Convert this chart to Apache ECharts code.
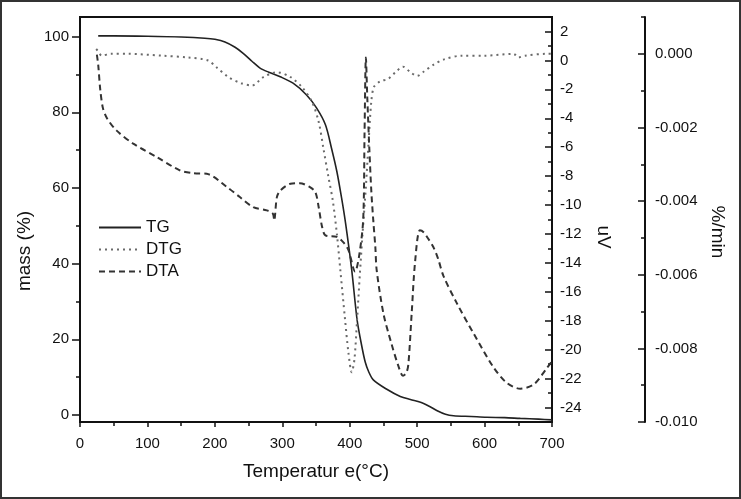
<!DOCTYPE html>
<html>
<head>
<meta charset="utf-8">
<script src="https://cdn.jsdelivr.net/npm/echarts/dist/echarts.min.js"></script>
<style>
  html, body { margin: 0; padding: 0; background: #fff; }
  #chart { width: 741px; height: 499px; }
</style>
</head>
<body>
<div id="chart"></div>
<script>
// ---- data ----
const tempTicks = [0, 100, 200, 300, 400, 500, 600, 700]
const massTicks = [0, 20, 40, 60, 80, 100]
const uvTicks = [-24, -22, -20, -18, -16, -14, -12, -10, -8, -6, -4, -2, 0, 2]
const rateTicks = [-0.010, -0.008, -0.006, -0.004, -0.002, 0.000]

// TG (mass %)
const tgTemp = [27, 50, 100, 150, 185, 200, 215, 230, 242, 255, 267, 280, 297, 316, 336, 351, 364, 373, 381, 388,
  394, 403, 411, 418, 423, 428, 435, 455, 475, 490, 505, 517, 529, 542, 554, 580, 603, 630, 653, 680, 700]
const tgMass = [100.2, 100.2, 100.1, 99.9, 99.6, 99.3, 98.6, 97.2, 95.6, 93.5, 91.7, 90.6, 89.4, 87.7, 84.6, 81.1, 76.7, 70.5, 64.3, 57.3,
  50.5, 38.3, 25.1, 18.1, 14.0, 11.5, 9.3, 6.8, 4.9, 4.1, 3.4, 2.4, 1.2, 0.2, -0.2, -0.4, -0.6, -0.7, -0.9, -1.1, -1.3]

// DTG (%/min)
const dtgTemp = [24, 28, 32, 46, 71, 121, 160, 190, 202, 220, 239, 255, 272, 292, 312, 329, 344, 354, 361, 368,
  375, 381, 386, 393, 398, 403, 407, 411, 415, 419, 424, 428, 432, 436, 445, 457, 468, 479, 490, 500,
  510, 524, 540, 566, 600, 643, 650, 660, 692, 700]
const dtgRate = [0.00013, 0.00005, -0.00005, 0, 0, -0.00005, -0.0001, -0.00018, -0.00036, -0.00063, -0.0008, -0.00086, -0.00063, -0.0005, -0.00063, -0.0009, -0.0013, -0.00185, -0.00257, -0.0033,
  -0.004, -0.0049, -0.00586, -0.0072, -0.0081, -0.00865, -0.0083, -0.0072, -0.006, -0.0049, -0.0036, -0.0024, -0.0013, -0.0009, -0.00075, -0.00068, -0.0005, -0.00035, -0.0005, -0.0006,
  -0.00048, -0.0003, -0.00015, -0.00005, -0.00005, 0, -0.0001, -0.00005, 0, 0]

// DTA (uV)
const dtaTemp = [25, 27, 30, 34, 40, 54, 79, 114, 148, 168, 188, 218, 237, 257, 277, 286, 288, 292, 297, 312,
  326, 341, 349, 354, 359, 364, 381, 391, 398, 408, 414, 420, 422, 424, 426, 429, 432, 435, 438, 440,
  450, 462, 472, 479, 484, 487, 492, 497, 504, 510, 516, 524, 531, 539, 559, 584, 613, 633, 653, 673, 692, 700]
const dtaSignal = [0.4, -0.3, -2.0, -3.3, -4.0, -4.84, -5.76, -6.69, -7.6, -7.8, -7.84, -8.76, -9.45, -10.15, -10.37, -10.6, -11.07, -9.45, -9.0, -8.53,
  -8.49, -8.76, -9.1, -10.15, -11.5, -12.1, -12.2, -12.6, -13.1, -14.6, -13.5, -11, -5, 0.2, -2.5, -6, -9, -11.1, -12.9, -14.5,
  -17.5, -19.6, -21.1, -21.8, -21.6, -21.0, -17.4, -13.9, -11.75, -11.9, -12.3, -12.9, -13.7, -14.9, -16.8, -18.9, -21.2, -22.3, -22.7, -22.4, -21.3, -20.8]

const zip = (xs, ys) => xs.map((x, i) => [x, ys[i]])
const minorOf = (lo, hi, step) => {
  const out = []
  for (let v = lo; v <= hi + 1e-9; v += step) out.push(+v.toFixed(6))
  return out
}

const FONT = 'Liberation Sans'
const INK = '#111'
const labelStyle = { fontFamily: FONT, fontSize: 15, color: INK }
const axisLineOn = { show: true, onZero: false, lineStyle: { color: INK, width: 2 } }
const axisLineOff = { show: false, onZero: false }
const tickStyle = { color: INK, width: 1.5 }
const titleFont = '19px "Liberation Sans"'

const chart = echarts.init(document.getElementById('chart'))

const option = {
  animation: false,
  backgroundColor: '#fff',
  textStyle: { fontFamily: FONT },
  grid: {
    left: 80, right: 189, top: 17, bottom: 77,
    show: true, borderColor: INK, borderWidth: 2, backgroundColor: 'transparent'
  },
  legend: {
    orient: 'vertical',
    left: 98,
    top: 219,
    padding: 0,
    itemWidth: 42,
    itemHeight: 12,
    itemGap: 5,
    itemStyle: { color: 'transparent', borderColor: 'transparent', borderWidth: 0 },
    textStyle: { fontFamily: FONT, fontSize: 17, color: INK },
    data: ['TG', 'DTG', 'DTA']
  },
  xAxis: [
    {
      type: 'value', min: 0, max: 700, position: 'bottom',
      axisLine: axisLineOn,
      axisTick: { inside: false, length: 5, lineStyle: tickStyle, customValues: tempTicks },
      axisLabel: { ...labelStyle, margin: 14, customValues: tempTicks },
      splitLine: { show: false }
    },
    {
      type: 'value', min: 0, max: 700, position: 'bottom',
      axisLine: axisLineOff,
      axisTick: { inside: false, length: 4, lineStyle: tickStyle, customValues: minorOf(50, 650, 100) },
      axisLabel: { show: false },
      splitLine: { show: false }
    }
  ],
  yAxis: [
    {
      type: 'value', min: -1.85, max: 105.2, position: 'left',
      axisLine: axisLineOn,
      axisTick: { show: true, inside: false, length: 8, lineStyle: tickStyle, customValues: massTicks },
      axisLabel: { ...labelStyle, margin: 11, customValues: massTicks },
      splitLine: { show: false }
    },
    {
      type: 'value', min: -25, max: 3, position: 'right', offset: 0,
      axisLine: axisLineOn,
      axisTick: { show: true, inside: true, length: 7, lineStyle: tickStyle, customValues: uvTicks },
      axisLabel: { ...labelStyle, margin: 8, customValues: uvTicks },
      splitLine: { show: false }
    },
    {
      type: 'value', min: -0.010, max: 0.001, position: 'right', offset: 93,
      axisLine: axisLineOn,
      axisTick: { show: true, inside: true, length: 7, lineStyle: tickStyle, customValues: rateTicks },
      axisLabel: { ...labelStyle, margin: 10, customValues: rateTicks, formatter: v => (Math.abs(v) < 1e-9 ? 0 : v).toFixed(3) },
      splitLine: { show: false }
    },
    // minor tick overlays
    {
      type: 'value', min: -1.85, max: 105.2, position: 'left',
      axisLine: axisLineOff, axisLabel: { show: false }, splitLine: { show: false },
      axisTick: { show: true, inside: false, length: 4, lineStyle: tickStyle, customValues: minorOf(10, 90, 20) }
    },
    {
      type: 'value', min: -25, max: 3, position: 'right', offset: 0,
      axisLine: axisLineOff, axisLabel: { show: false }, splitLine: { show: false },
      axisTick: { show: true, inside: true, length: 4, lineStyle: tickStyle, customValues: minorOf(-25, 3, 2) }
    },
    {
      type: 'value', min: -0.010, max: 0.001, position: 'right', offset: 93,
      axisLine: axisLineOff, axisLabel: { show: false }, splitLine: { show: false },
      axisTick: { show: true, inside: true, length: 4, lineStyle: tickStyle, customValues: minorOf(-0.009, 0.001, 0.002) }
    }
  ],
  graphic: [
    {
      type: 'rect', silent: true,
      shape: { x: 1, y: 1, width: 739, height: 497 },
      style: { fill: 'none', stroke: '#333', lineWidth: 2 }
    },
    {
      type: 'text', x: 316, y: 472, silent: true,
      style: { text: 'Temperatur e(°C)', font: titleFont, fill: INK, textAlign: 'center', textVerticalAlign: 'middle' }
    },
    {
      type: 'text', x: 25, y: 251, rotation: Math.PI / 2, silent: true,
      style: { text: 'mass (%)', font: titleFont, fill: INK, textAlign: 'center', textVerticalAlign: 'middle' }
    },
    {
      type: 'text', x: 603, y: 237, rotation: -Math.PI / 2, silent: true,
      style: { text: 'uV', font: titleFont, fill: INK, textAlign: 'center', textVerticalAlign: 'middle' }
    },
    {
      type: 'text', x: 717, y: 232, rotation: -Math.PI / 2, silent: true,
      style: { text: '%/min', font: titleFont, fill: INK, textAlign: 'center', textVerticalAlign: 'middle' }
    }
  ],
  series: [
    {
      name: 'TG', type: 'line', xAxisIndex: 0, yAxisIndex: 0,
      data: zip(tgTemp, tgMass),
      symbol: 'none', smooth: 0.3,
      lineStyle: { color: '#222', width: 1.6, type: 'solid' },
      itemStyle: { color: '#222' }
    },
    {
      name: 'DTG', type: 'line', xAxisIndex: 0, yAxisIndex: 2,
      data: zip(dtgTemp, dtgRate),
      symbol: 'none', smooth: 0.3,
      lineStyle: { color: '#6a6a6a', width: 2, type: [2, 4] },
      itemStyle: { color: '#6a6a6a' }
    },
    {
      name: 'DTA', type: 'line', xAxisIndex: 0, yAxisIndex: 1,
      data: zip(dtaTemp, dtaSignal),
      symbol: 'none', smooth: 0.3,
      lineStyle: { color: '#333', width: 2, type: [6, 4] },
      itemStyle: { color: '#333' }
    }
  ]
}

chart.setOption(option)
</script>
</body>
</html>
